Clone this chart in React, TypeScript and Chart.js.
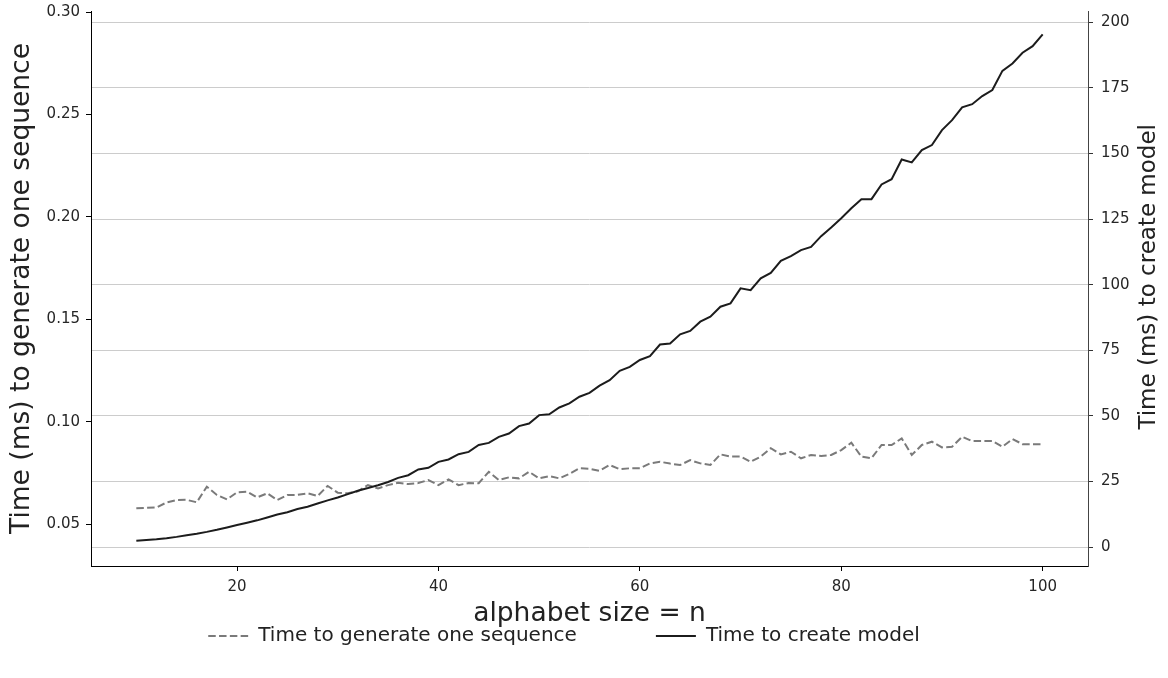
import React, { useEffect, useRef } from "react";
import { Chart, registerables } from "chart.js";

Chart.register(...registerables);

// alphabet size n
const N = [
  10, 11, 12, 13, 14, 15, 16, 17, 18, 19,
  20, 21, 22, 23, 24, 25, 26, 27, 28, 29,
  30, 31, 32, 33, 34, 35, 36, 37, 38, 39,
  40, 41, 42, 43, 44, 45, 46, 47, 48, 49,
  50, 51, 52, 53, 54, 55, 56, 57, 58, 59,
  60, 61, 62, 63, 64, 65, 66, 67, 68, 69,
  70, 71, 72, 73, 74, 75, 76, 77, 78, 79,
  80, 81, 82, 83, 84, 85, 86, 87, 88, 89,
  90, 91, 92, 93, 94, 95, 96, 97, 98, 99,
  100,
];

// Time (ms) to generate one sequence (left axis)
const GEN_TIME = [
  0.0577, 0.0579, 0.0581, 0.0605, 0.0617, 0.0618, 0.0606, 0.0682, 0.0642, 0.062,
  0.0655, 0.0658, 0.063, 0.065, 0.0617, 0.0642, 0.0642, 0.065, 0.0637, 0.0686,
  0.0653, 0.065, 0.066, 0.069, 0.0674, 0.069, 0.0701, 0.0695, 0.07, 0.0715,
  0.069, 0.0718, 0.069, 0.07, 0.0699, 0.0755, 0.0715, 0.0728, 0.0723, 0.0755,
  0.0723, 0.0734, 0.0723, 0.0745, 0.0772, 0.077, 0.076, 0.0788, 0.0768, 0.0772,
  0.0772, 0.0796, 0.0804, 0.0795, 0.0788, 0.0812, 0.0796, 0.0788, 0.084, 0.0829,
  0.083, 0.0804, 0.0829, 0.087, 0.084, 0.0853, 0.0821, 0.0837, 0.0832, 0.0837,
  0.0861, 0.0897, 0.0829, 0.0821, 0.0886, 0.0886, 0.0918, 0.0837, 0.0886, 0.0902,
  0.0874, 0.0877, 0.0926, 0.0905, 0.0905, 0.0905, 0.0877, 0.0915, 0.089, 0.089,
  0.089,
];

// Time (ms) to create model (right axis)
const MODEL_TIME = [
  2.4, 2.7, 3.0, 3.4, 3.9, 4.5, 5.1, 5.8, 6.6, 7.5,
  8.4, 9.3, 10.2, 11.3, 12.4, 13.3, 14.5, 15.4, 16.6, 17.8,
  18.9, 20.2, 21.5, 22.5, 23.6, 24.8, 26.4, 27.4, 29.6, 30.2,
  32.5, 33.4, 35.4, 36.3, 38.9, 39.7, 42.0, 43.3, 46.1, 47.1,
  50.3, 50.6, 53.2, 54.8, 57.3, 58.8, 61.5, 63.6, 67.2, 68.7,
  71.3, 72.8, 77.2, 77.6, 81.1, 82.4, 85.9, 87.8, 91.6, 92.9,
  98.6, 97.9, 102.4, 104.5, 109.1, 110.9, 113.2, 114.4, 118.5, 121.8,
  125.3, 129.1, 132.6, 132.6, 138.2, 140.2, 147.7, 146.6, 151.3, 153.2,
  158.9, 162.7, 167.6, 168.8, 171.9, 174.2, 181.5, 184.3, 188.4, 190.9,
  195.4,
];

const X_TICKS = [20, 40, 60, 80, 100];
const LEFT_TICKS = [0.05, 0.1, 0.15, 0.2, 0.25, 0.3];
const RIGHT_TICKS = [0, 25, 50, 75, 100, 125, 150, 175, 200];

const SERIES_LABELS = ["Time to generate one sequence", "Time to create model"];
const X_TITLE = "alphabet size = n";
const LEFT_TITLE = "Time (ms) to generate one sequence";
const RIGHT_TITLE = "Time (ms) to create model";

const FAMILY = "'DejaVu Sans', 'Liberation Sans', sans-serif";
const TITLE_SIZE = 26.5;
const RIGHT_TITLE_SIZE = 23;

export default function App() {
  const ref = useRef<HTMLCanvasElement | null>(null);

  useEffect(() => {
    if (!ref.current) return;

    // place the legend row like the reference (below the x title)
    const legendShift = {
      id: "legendShift",
      afterLayout(chart: any) {
        const lg = chart.legend;
        if (!lg) return;
        const pad = lg.options.labels.padding;
        const fs = lg.options.labels.font.size;
        lg.top = 636 - fs / 2 - pad;
        lg.bottom = chart.height;
        const dx = 564 - (lg.left + lg.right) / 2;
        lg.left += dx;
        lg.right += dx;
      },
    };

    // right axis title, reading bottom-to-top as in the reference
    const rightTitle = {
      id: "rightTitle",
      afterDraw(chart: any) {
        const s = chart.scales.yR;
        const ctx = chart.ctx;
        ctx.save();
        ctx.translate(s.right - 19, s.getPixelForValue(103));
        ctx.rotate(-Math.PI / 2);
        ctx.font = `${RIGHT_TITLE_SIZE}px ${FAMILY}`;
        ctx.fillStyle = "#222222";
        ctx.textAlign = "center";
        ctx.textBaseline = "middle";
        ctx.fillText(RIGHT_TITLE, 0, 0);
        ctx.restore();
      },
    };

    const chart = new Chart(ref.current, {
      type: "line",
      data: {
        datasets: [
          {
            label: SERIES_LABELS[0],
            data: N.map((n, i) => ({ x: n, y: GEN_TIME[i] })),
            yAxisID: "yL",
            borderColor: "#7a7a7a",
            backgroundColor: "#7a7a7a",
            borderWidth: 2,
            borderDash: [7.5, 3.3],
            pointRadius: 0,
            tension: 0,
            fill: false,
            order: 1,
          },
          {
            label: SERIES_LABELS[1],
            data: N.map((n, i) => ({ x: n, y: MODEL_TIME[i] })),
            yAxisID: "yR",
            borderColor: "#1c1c1c",
            backgroundColor: "#1c1c1c",
            borderWidth: 2,
            pointRadius: 0,
            tension: 0,
            fill: false,
            order: 0,
          },
        ],
      },
      options: {
        animation: false,
        responsive: true,
        maintainAspectRatio: false,
        layout: { padding: { top: 11, left: 0, right: 0, bottom: 0 } },
        plugins: {
          tooltip: { enabled: false },
          legend: {
            display: true,
            position: "bottom",
            maxHeight: 48,
            labels: {
              usePointStyle: true,
              pointStyle: "line",
              pointStyleWidth: 40,
              padding: 79,
              color: "#222222",
              font: { family: FAMILY, size: 20 },
              sort: (a: any, b: any) => a.datasetIndex - b.datasetIndex,
              generateLabels: (c: any) => {
                const items = (Chart as any).defaults.plugins.legend.labels.generateLabels(c);
                return items.map((it: any) => {
                  const ds = c.data.datasets[it.datasetIndex];
                  return {
                    ...it,
                    lineDash: ds.borderDash || [],
                    strokeStyle: ds.borderColor,
                    fillStyle: ds.borderColor,
                    lineWidth: ds.borderWidth,
                    pointStyle: "line",
                  };
                });
              },
            },
          },
        },
        scales: {
          x: {
            type: "linear",
            min: 5.5,
            max: 104.5,
            afterBuildTicks: (s: any) => {
              s.ticks = X_TICKS.map((v) => ({ value: v }));
            },
            afterFit: (s: any) => {
              s.height = 64;
              s.paddingLeft = 0;
              s.paddingRight = 0;
            },
            ticks: {
              font: { family: FAMILY, size: 15 },
              color: "#262626",
              padding: 7,
              maxRotation: 0,
              autoSkip: false,
              callback: (v: any) => String(v),
            },
            grid: {
              display: true,
              drawOnChartArea: false,
              drawTicks: true,
              tickLength: 5,
              tickColor: "#000000",
              tickWidth: 1,
            },
            border: { display: true, color: "#000000", width: 1 },
            title: {
              display: true,
              text: X_TITLE,
              color: "#222222",
              font: { family: FAMILY, size: TITLE_SIZE },
              padding: { top: 0, bottom: 0 },
            },
          },
          yL: {
            type: "linear",
            position: "left",
            min: 0.0295,
            max: 0.3005,
            afterBuildTicks: (s: any) => {
              s.ticks = LEFT_TICKS.map((v) => ({ value: v }));
            },
            afterFit: (s: any) => {
              s.width = 91;
              s.paddingTop = 0;
              s.paddingBottom = 0;
            },
            ticks: {
              font: { family: FAMILY, size: 15 },
              color: "#262626",
              padding: 6,
              autoSkip: false,
              callback: (v: any) => Number(v).toFixed(2),
            },
            grid: {
              display: true,
              drawOnChartArea: false,
              drawTicks: true,
              tickLength: 5,
              tickColor: "#000000",
              tickWidth: 1,
            },
            border: { display: true, color: "#000000", width: 1 },
            title: {
              display: true,
              text: LEFT_TITLE,
              color: "#222222",
              font: { family: FAMILY, size: TITLE_SIZE },
              padding: { top: 6, bottom: 0 },
            },
          },
          yR: {
            type: "linear",
            position: "right",
            min: -7.2,
            max: 204.3,
            afterBuildTicks: (s: any) => {
              s.ticks = RIGHT_TICKS.map((v) => ({ value: v }));
            },
            afterFit: (s: any) => {
              s.width = 80;
              s.paddingTop = 0;
              s.paddingBottom = 0;
            },
            ticks: {
              font: { family: FAMILY, size: 15 },
              color: "#262626",
              padding: 8,
              autoSkip: false,
              callback: (v: any) => String(v),
            },
            grid: {
              display: true,
              drawOnChartArea: true,
              color: "#cccccc",
              lineWidth: 1,
              drawTicks: true,
              tickLength: 5,
              tickColor: "#333333",
              tickWidth: 1,
            },
            border: { display: true, color: "#444444", width: 1 },
            title: { display: false, text: RIGHT_TITLE },
          },
        },
      },
      plugins: [legendShift, rightTitle],
    } as any);

    return () => chart.destroy();
  }, []);

  return (
    <div
      style={{
        position: "fixed",
        left: 0,
        top: 0,
        width: 1168,
        height: 678,
        background: "#ffffff",
      }}
    >
      <canvas ref={ref} />
    </div>
  );
}
